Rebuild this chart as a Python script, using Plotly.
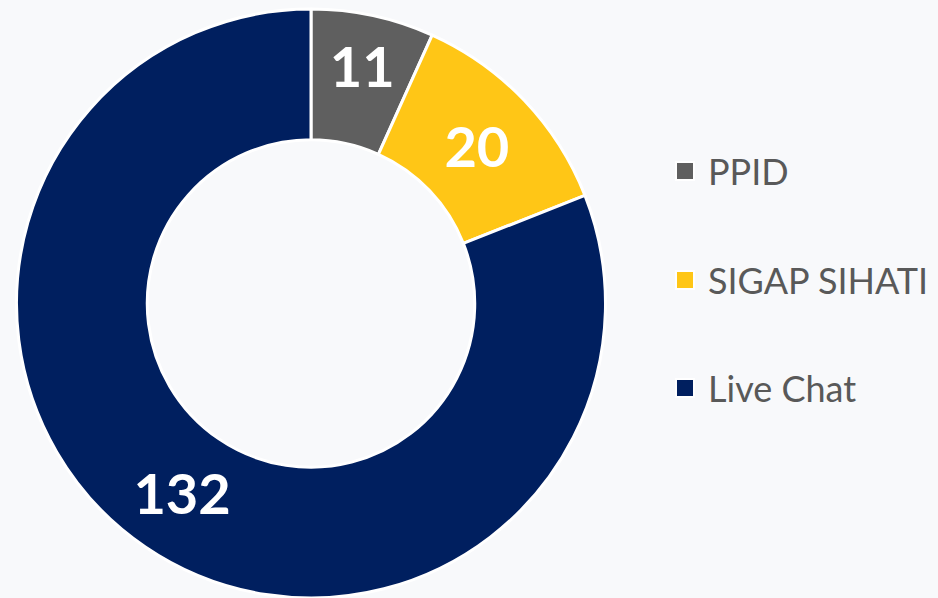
import plotly.graph_objects as go

labels = ["PPID", "SIGAP SIHATI", "Live Chat"]
values = [11, 20, 132]
colors = ["#5F5F5F", "#FFC616", "#001F5F"]

W, H = 938, 598
bg = "#F8F9FB"

fig = go.Figure()
fig.add_trace(go.Pie(
    labels=labels, values=values, hole=0.556, sort=False, direction="clockwise",
    rotation=0, marker=dict(colors=colors, line=dict(color="white", width=3)),
    textinfo="value", textposition="inside", insidetextorientation="horizontal",
    textfont=dict(family="Lato", size=56, color="white", weight="bold"),
    domain=dict(x=[16 / W, 606 / W], y=[0, 589 / H]),
    showlegend=False,
))

# legend drawn as shapes + annotations
leg_y = [171, 280, 388]
for lab, col, yy in zip(labels, colors, leg_y):
    fig.add_shape(type="rect", xref="paper", yref="paper",
                  x0=676 / W, x1=694 / W, y0=1 - (yy + 9) / H, y1=1 - (yy - 9) / H,
                  fillcolor=col, line=dict(color="white", width=2))
    fig.add_annotation(xref="paper", yref="paper", x=706 / W, y=1 - yy / H,
                       xanchor="left", yanchor="middle", text=lab, showarrow=False,
                       font=dict(family="Lato", size=36, color="#595959"))

fig.update_layout(width=W, height=H, margin=dict(l=0, r=0, t=0, b=0),
                  paper_bgcolor=bg, plot_bgcolor=bg)
fig.write_html("out.html", config={"displayModeBar": False},
               post_script="document.body.style.margin='0';document.body.style.background='%s';" % bg)
